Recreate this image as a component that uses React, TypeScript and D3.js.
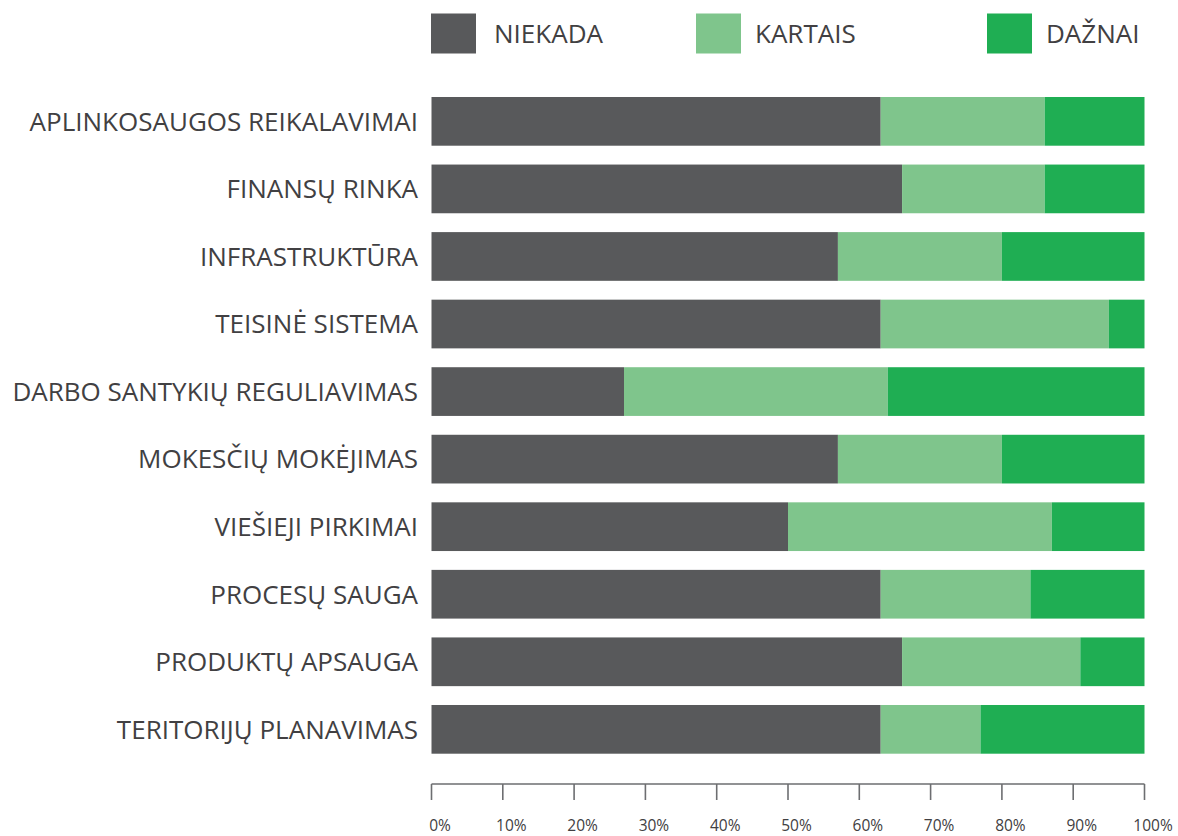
import React from "react";
import * as d3 from "d3";

const categories = [
  "APLINKOSAUGOS REIKALAVIMAI",
  "FINANSŲ RINKA",
  "INFRASTRUKTŪRA",
  "TEISINĖ SISTEMA",
  "DARBO SANTYKIŲ REGULIAVIMAS",
  "MOKESČIŲ MOKĖJIMAS",
  "VIEŠIEJI PIRKIMAI",
  "PROCESŲ SAUGA",
  "PRODUKTŲ APSAUGA",
  "TERITORIJŲ PLANAVIMAS",
];
const seriesNames = ["NIEKADA", "KARTAIS", "DAŽNAI"];
const niekada = [63, 66, 57, 63, 27, 57, 50, 63, 66, 63];
const kartais = [23, 20, 23, 32, 37, 23, 37, 21, 25, 14];
const daznai = [14, 14, 20, 5, 36, 20, 13, 16, 9, 23];
const tickValues = [0, 10, 20, 30, 40, 50, 60, 70, 80, 90, 100];
const colors = ["#58595b", "#7fc58c", "#1fae53"];

export default function App() {
  const W = 1178;
  const H = 836;
  const x = d3.scaleLinear().domain([0, 100]).range([431.5, 1144.5]);
  const y = d3
    .scaleBand<string>()
    .domain(categories)
    .range([97, 753.7])
    .paddingInner(0.279)
    .paddingOuter(0);

  const rows = categories.map((c, i) => ({
    cat: c,
    NIEKADA: niekada[i],
    KARTAIS: kartais[i],
    DAŽNAI: daznai[i],
  }));
  const stacked = d3.stack<any>().keys(seriesNames)(rows);

  const legendX = [431, 696, 987];
  const legendTextX = [494, 755, 1046];
  const textColor = "#414042";
  const font = "'Open Sans', sans-serif";

  return (
    <svg
      width={W}
      height={H}
      style={{ position: "absolute", left: 0, top: 0, background: "#fff" }}
    >
      {/* legend */}
      {seriesNames.map((s, i) => (
        <g key={s}>
          <rect x={legendX[i]} y={13.5} width={45} height={40} fill={colors[i]} />
          <text
            x={legendTextX[i]}
            y={33.5}
            dy="0.36em"
            fontFamily={font}
            fontSize={26}
            fill={textColor}
          >
            {s}
          </text>
        </g>
      ))}

      {/* bars */}
      {stacked.map((layer, si) => (
        <g key={layer.key} fill={colors[si]}>
          {layer.map((d, i) => (
            <rect
              key={i}
              x={x(d[0])}
              y={y(categories[i])}
              width={x(d[1]) - x(d[0])}
              height={y.bandwidth()}
            />
          ))}
        </g>
      ))}

      {/* category labels */}
      {categories.map((c) => (
        <text
          key={c}
          x={418}
          y={(y(c) as number) + y.bandwidth() / 2}
          dy="0.36em"
          textAnchor="end"
          fontFamily={font}
          fontSize={26}
          fill={textColor}
        >
          {c}
        </text>
      ))}

      {/* axis */}
      <g stroke="#6d6e71" strokeWidth={1.6} fill="none">
        <line x1={x(0)} x2={x(100)} y1={784} y2={784} />
        {tickValues.map((t) => (
          <line key={t} x1={x(t)} x2={x(t)} y1={784} y2={800} />
        ))}
      </g>
      {tickValues.map((t) => (
        <text
          key={t}
          x={x(t) + 8.5}
          y={831}
          textAnchor="middle"
          fontFamily={font}
          fontSize={15.5}
          fill={textColor}
        >
          {t + "%"}
        </text>
      ))}
    </svg>
  );
}
